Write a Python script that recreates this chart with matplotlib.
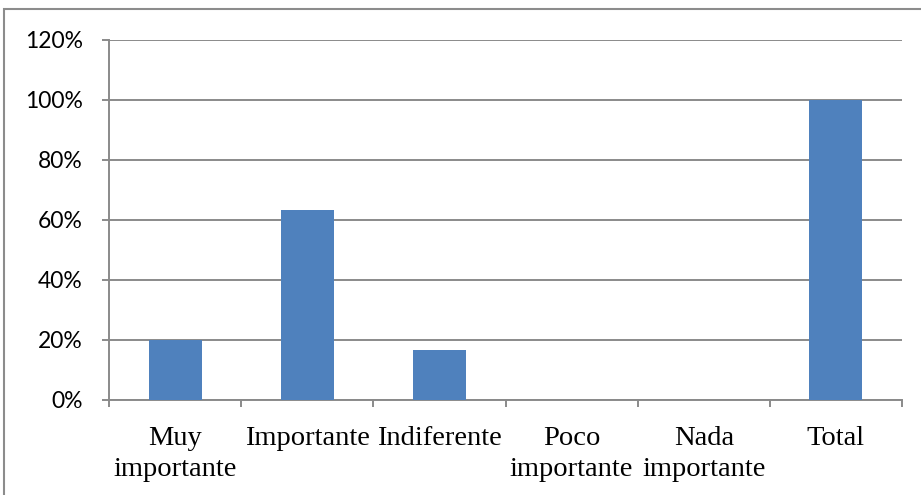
import matplotlib
matplotlib.use("Agg")
import matplotlib.pyplot as plt
from matplotlib.patches import Rectangle
from matplotlib.ticker import FixedLocator, FuncFormatter

categories = ["Muy\nimportante", "Importante", "Indiferente", "Poco\nimportante", "Nada\nimportante", "Total"]
values = [20.0, 63.33, 16.67, 0.0, 0.0, 100.0]
yticks = [0, 20, 40, 60, 80, 100, 120]

W, H = 921, 495
fig = plt.figure(figsize=(W / 100, H / 100), dpi=100)

grid_color = "#8a8a8a"
bar_color = "#4f81bd"

# outer chart frame
fig.patches.append(Rectangle((4 / W, -0.1), 1.2, (H - 9) / H + 0.1,
                             transform=fig.transFigure, fill=False,
                             edgecolor="#8c8c8c", linewidth=1.5, zorder=0))

ax = fig.add_axes([109 / W, (H - 400) / H, (902 - 109) / W, 360 / H])
x = list(range(len(categories)))
ax.bar(x, values, width=0.4, color=bar_color, zorder=3)

ax.set_xlim(-0.5, len(categories) - 0.5)
ax.set_ylim(0, 120)
ax.set_yticks(yticks)
ax.yaxis.set_major_formatter(FuncFormatter(lambda v, p: f"{v:.0f}%"))
ax.grid(axis="y", color=grid_color, linewidth=1.4, zorder=1)

ax.xaxis.set_major_locator(FixedLocator([i - 0.5 for i in range(len(categories) + 1)]))
ax.xaxis.set_minor_locator(FixedLocator(x))
ax.set_xticklabels([], minor=False)
ax.set_xticklabels(categories, minor=True, family="Liberation Serif", fontsize=20.5,
                   linespacing=1.28, va="top")
ax.tick_params(axis="x", which="major", length=5, color=grid_color, width=1.4)
ax.tick_params(axis="x", which="minor", length=0, pad=19)
ax.tick_params(axis="y", length=5, color=grid_color, width=1.4, pad=14)
for lab in ax.get_yticklabels():
    lab.set_family("Lato")
    lab.set_fontsize(16.5)

for s in ["top", "right"]:
    ax.spines[s].set_visible(False)
for s in ["left", "bottom"]:
    ax.spines[s].set_color(grid_color)
    ax.spines[s].set_linewidth(1.4)

fig.savefig("out.png", dpi=100)
